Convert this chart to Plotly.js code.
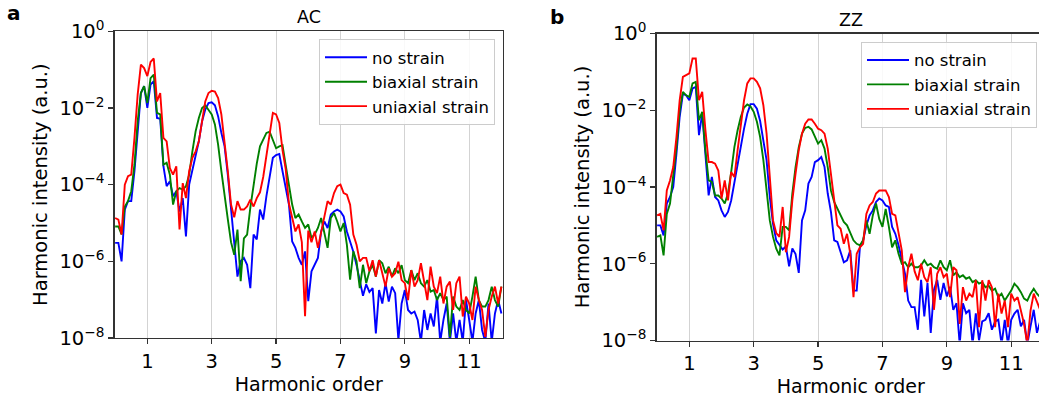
<!DOCTYPE html>
<html>
<head>
<meta charset="utf-8">
<script src="https://cdn.plot.ly/plotly-3.0.1.min.js"></script>
<style>html,body{margin:0;padding:0;overflow:hidden;background:#fff}</style>
</head>
<body>
<div id="chart" style="width:1050px;height:398px"></div>
<script>
// Harmonic order sampling grid: starts at 0, step 0.1 (121 samples, 0 … 12)
const harmonicStart = 0;
const harmonicStep = 0.1;

const seriesNames = ['no strain', 'biaxial strain', 'uniaxial strain'];
const panelTitles = ['AC', 'ZZ'];
const panelLetters = ['a', 'b'];

// log10 of harmonic intensity (a.u.), panel a (AC)
const acNoStrain = [
 -5.52,-5.52,-6.00,-4.65,-4.43,-4.43,-3.65,-2.52,-1.61,-1.43,
 -2.00,-1.39,-1.30,-2.26,-2.28,-3.52,-4.04,-3.91,-4.30,-4.17,
 -4.70,-4.35,-5.35,-4.00,-3.65,-3.26,-2.87,-2.35,-2.04,-1.87,
 -1.85,-1.93,-2.22,-2.65,-3.00,-3.74,-4.61,-5.57,-6.40,-6.00,
 -5.91,-6.09,-6.70,-5.30,-5.43,-4.65,-4.91,-4.30,-3.83,-3.30,
 -3.23,-3.20,-3.65,-4.09,-4.52,-5.48,-5.65,-5.91,-6.09,-5.74,
 -7.04,-6.26,-6.09,-5.91,-5.22,-4.96,-5.13,-4.78,-4.70,-4.65,
 -4.70,-4.83,-5.22,-5.50,-5.75,-6.10,-6.50,-6.90,-6.60,-6.80,
 -6.70,-7.88,-6.75,-7.10,-6.57,-7.05,-6.66,-6.83,-8.05,-7.10,
 -6.75,-7.27,-7.36,-7.31,-7.53,-8.10,-7.27,-7.79,-7.36,-7.70,
 -6.92,-8.10,-7.53,-7.10,-8.10,-7.36,-8.10,-7.53,-8.10,-7.01,
 -7.53,-8.10,-7.36,-7.01,-7.79,-8.10,-7.10,-8.10,-7.36,-7.01,
 -7.36
];
const acBiaxial = [
 -5.09,-5.09,-5.30,-4.57,-4.43,-4.17,-3.48,-2.35,-1.61,-1.43,
 -1.87,-1.22,-1.13,-2.13,-2.17,-3.48,-3.43,-3.74,-4.52,-4.17,
 -4.09,-4.13,-4.04,-3.74,-3.13,-2.61,-2.26,-2.00,-1.93,-2.04,
 -2.17,-2.43,-2.96,-3.65,-4.35,-4.90,-5.50,-5.83,-5.17,-6.52,
 -5.40,-5.30,-4.60,-4.00,-3.45,-3.00,-2.80,-2.65,-2.62,-2.85,
 -3.05,-3.00,-2.97,-3.50,-4.05,-4.52,-4.87,-4.78,-4.96,-5.13,
 -5.04,-5.39,-5.30,-5.13,-4.87,-5.22,-5.65,-4.87,-4.74,-4.96,
 -5.22,-5.00,-5.57,-6.48,-5.74,-6.00,-6.70,-6.09,-6.57,-6.26,
 -6.09,-6.40,-5.97,-6.05,-6.31,-6.14,-6.40,-6.18,-6.31,-6.10,
 -6.49,-6.57,-6.23,-6.49,-6.31,-6.57,-6.66,-6.49,-6.79,-6.75,
 -7.01,-6.83,-7.01,-6.92,-7.97,-6.92,-7.18,-7.27,-7.01,-7.27,
 -7.36,-6.92,-6.40,-7.01,-7.18,-7.18,-7.01,-6.66,-7.01,-7.18,
 -6.66
];
const acUniaxial = [
 -4.87,-4.91,-5.30,-4.00,-3.78,-3.74,-2.78,-1.65,-0.87,-0.96,
 -1.17,-0.80,-0.71,-1.83,-1.61,-2.78,-2.87,-3.57,-3.74,-3.52,
 -5.17,-3.96,-4.35,-3.65,-3.30,-3.13,-2.87,-2.39,-1.83,-1.61,
 -1.55,-1.57,-1.74,-2.17,-2.87,-3.65,-4.52,-4.85,-4.43,-4.65,
 -4.65,-4.57,-4.39,-4.57,-4.35,-4.20,-3.80,-3.26,-2.61,-2.13,
 -2.17,-2.39,-3.10,-3.60,-4.50,-4.83,-5.22,-5.04,-5.50,-7.43,
 -5.20,-5.50,-5.22,-5.65,-5.22,-4.87,-4.43,-4.52,-4.22,-4.04,
 -4.00,-4.22,-4.26,-4.52,-5.30,-5.57,-6.00,-5.91,-5.91,-6.26,
 -5.97,-6.40,-5.97,-6.31,-6.66,-6.18,-6.40,-6.31,-6.01,-6.49,
 -6.57,-7.01,-6.23,-6.66,-6.49,-6.05,-6.57,-7.01,-6.14,-6.66,
 -6.83,-6.40,-7.10,-6.66,-6.53,-7.27,-6.57,-6.40,-7.44,-6.92,
 -7.10,-7.53,-6.66,-7.01,-7.27,-7.97,-7.27,-6.92,-6.66,-7.10,
 -6.66
];

// log10 of harmonic intensity (a.u.), panel b (ZZ)
const zzNoStrain = [
 -5.00,-5.00,-5.26,-4.43,-4.26,-4.00,-3.13,-2.17,-1.57,-1.61,
 -1.74,-1.43,-1.39,-2.65,-2.09,-3.22,-4.22,-3.74,-4.26,-4.35,
 -4.61,-4.78,-4.65,-4.35,-3.87,-3.35,-2.91,-2.48,-2.09,-1.84,
 -1.84,-1.96,-2.28,-2.78,-3.30,-4.26,-4.96,-5.39,-5.50,-5.63,
 -5.55,-6.07,-5.60,-5.75,-6.24,-4.87,-4.61,-3.91,-3.74,-3.35,
 -3.30,-3.22,-3.48,-4.17,-4.65,-5.39,-5.43,-5.70,-5.96,-5.91,
 -5.65,-6.70,-6.70,-5.57,-5.39,-5.00,-4.74,-4.61,-4.39,-4.30,
 -4.35,-4.48,-4.52,-5.04,-5.22,-5.52,-5.91,-6.26,-6.96,-7.13,
 -7.13,-7.72,-6.42,-7.37,-6.50,-7.80,-6.68,-6.42,-6.94,-6.50,
 -6.85,-6.60,-7.20,-7.03,-8.10,-7.03,-7.29,-7.20,-8.10,-7.29,
 -8.00,-7.50,-7.46,-7.29,-7.72,-7.50,-7.46,-8.10,-7.46,-8.10,
 -7.46,-7.30,-7.20,-7.63,-7.46,-8.10,-7.63,-7.20,-7.80,-7.50,
 -7.40
];
const zzBiaxial = [
 -5.30,-5.26,-5.78,-4.70,-4.43,-3.74,-2.96,-2.00,-1.52,-1.61,
 -1.65,-1.30,-1.26,-2.26,-2.04,-3.04,-3.83,-3.87,-4.22,-4.22,
 -4.30,-4.43,-4.17,-3.61,-2.96,-2.52,-2.17,-1.93,-1.85,-1.90,
 -2.04,-2.30,-2.70,-3.30,-4.09,-4.87,-5.30,-5.61,-5.78,-5.04,
 -5.04,-5.13,-4.17,-3.48,-2.96,-2.61,-2.46,-2.43,-2.50,-2.70,
 -2.87,-2.78,-3.00,-3.48,-4.09,-4.39,-4.57,-4.74,-4.91,-5.00,
 -5.22,-5.39,-5.48,-5.52,-5.39,-4.87,-5.22,-4.74,-4.43,-4.83,
 -5.04,-4.57,-5.04,-5.57,-5.39,-5.74,-6.00,-5.96,-6.09,-6.00,
 -6.09,-6.09,-6.04,-5.91,-6.04,-6.00,-6.09,-6.13,-5.91,-6.09,
 -6.17,-5.91,-6.30,-6.22,-6.35,-6.30,-6.39,-6.35,-6.48,-6.43,
 -6.52,-6.48,-6.61,-6.57,-6.70,-6.65,-6.87,-6.78,-6.96,-6.83,
 -6.70,-6.52,-6.61,-6.74,-6.91,-6.96,-6.78,-6.65,-6.78,-6.87,
 -6.80
];
const zzUniaxial = [
 -4.74,-4.70,-5.13,-4.09,-3.83,-3.48,-2.70,-1.74,-1.13,-1.09,
 -1.04,-0.65,-0.65,-1.74,-1.52,-2.52,-3.35,-3.35,-3.39,-3.57,
 -4.30,-3.83,-4.35,-3.61,-3.74,-3.04,-2.35,-1.74,-1.30,-1.17,
 -1.17,-1.26,-1.43,-1.87,-2.61,-3.74,-4.87,-5.20,-5.30,-4.52,
 -5.70,-5.30,-4.35,-3.65,-3.04,-2.61,-2.35,-2.24,-2.24,-2.35,
 -2.48,-2.52,-2.61,-3.00,-3.65,-4.35,-5.00,-5.09,-5.48,-5.22,
 -5.74,-6.87,-5.74,-5.57,-5.48,-4.70,-4.48,-4.39,-4.17,-4.09,
 -4.09,-4.09,-4.26,-4.70,-4.74,-5.22,-5.65,-6.74,-6.09,-5.74,
 -6.20,-6.43,-6.00,-6.35,-6.48,-6.09,-7.20,-6.26,-6.09,-6.35,
 -6.26,-6.87,-6.09,-6.17,-7.57,-6.61,-6.96,-6.78,-6.87,-6.43,
 -7.65,-6.43,-6.96,-6.43,-6.61,-7.65,-6.78,-7.30,-6.96,-7.65,
 -6.78,-6.96,-6.87,-7.22,-7.57,-8.10,-7.22,-6.78,-7.00,-7.20,
 -7.00
];

const xTickVals = [1, 3, 5, 7, 9, 11];
const yTickVals = [1e-8, 1e-6, 1e-4, 1e-2, 1];
const yTickText = ['10<sup>\u22128</sup>', '10<sup>\u22126</sup>', '10<sup>\u22124</sup>', '10<sup>\u22122</sup>', '10<sup>0</sup>'];

// ---- styling ----
const W = 1050, H = 398;
const FONT = 'DejaVu Sans, Verdana, sans-serif';
const colors = ['#0000ff', '#008000', '#ff0000'];

function mk(vals, i, xa, ya, leg) {
  return {
    type: 'scatter', mode: 'lines',
    x0: harmonicStart, dx: harmonicStep,
    y: vals.map(v => Math.pow(10, v)),
    name: seriesNames[i],
    line: {color: colors[i], width: 1.9},
    xaxis: xa, yaxis: ya, legend: leg,
    hoverinfo: 'skip'
  };
}

const traces = [
  mk(acNoStrain, 0, 'x', 'y', 'legend'),
  mk(acBiaxial, 1, 'x', 'y', 'legend'),
  mk(acUniaxial, 2, 'x', 'y', 'legend'),
  mk(zzNoStrain, 0, 'x2', 'y2', 'legend2'),
  mk(zzBiaxial, 1, 'x2', 'y2', 'legend2'),
  mk(zzUniaxial, 2, 'x2', 'y2', 'legend2')
];

const frame = {
  showline: true, linecolor: '#333', linewidth: 1.2, mirror: true,
  ticks: 'outside', ticklen: 5, tickwidth: 1.2, tickcolor: '#333',
  zeroline: false, tickfont: {size: 19.5, color: '#000'}
};
function xa(dom, anchor) {
  return Object.assign({}, frame, {
    domain: dom, anchor: anchor, range: [-0.02, 12.05],
    tickmode: 'array', tickvals: xTickVals,
    showgrid: true, gridcolor: '#d3d3d3', gridwidth: 1,
    title: {text: 'Harmonic order', font: {size: 19, color: '#000'}, standoff: 2}
  });
}
function ya(dom, anchor) {
  return Object.assign({}, frame, {
    domain: dom, anchor: anchor, type: 'log', range: [-8, 0],
    tickmode: 'array', tickvals: yTickVals, ticktext: yTickText,
    showgrid: false,
    title: {text: 'Harmonic intensity (a.u.)', font: {size: 19.5, color: '#000'}, standoff: 6}
  });
}
const legendStyle = {
  xanchor: 'right', yanchor: 'top',
  bgcolor: 'rgba(255,255,255,0.85)', bordercolor: '#cccccc', borderwidth: 1,
  font: {size: 16.5, color: '#000'}, tracegroupgap: 0, itemwidth: 42
};

const layout = {
  width: W, height: H,
  margin: {l: 0, r: 0, t: 0, b: 0},
  paper_bgcolor: '#fff', plot_bgcolor: '#fff',
  font: {family: FONT, color: '#000'},
  showlegend: true,
  xaxis: xa([114.5 / W, 503 / W], 'y'),
  yaxis: ya([(H - 338) / H, (H - 31.3) / H], 'x'),
  xaxis2: xa([656.5 / W, 1045 / W], 'y2'),
  yaxis2: ya([(H - 340.5) / H, (H - 33.5) / H], 'x2'),
  legend: Object.assign({}, legendStyle, {x: 495 / W, y: 1 - 39 / H}),
  legend2: Object.assign({}, legendStyle, {x: 1037 / W, y: 1 - 41.7 / H}),
  annotations: [
    {text: '<b>' + panelLetters[0] + '</b>', xref: 'paper', yref: 'paper', x: 14 / W, y: 1 - 13 / H,
     xanchor: 'center', yanchor: 'middle', showarrow: false, font: {size: 20}},
    {text: '<b>' + panelLetters[1] + '</b>', xref: 'paper', yref: 'paper', x: 557 / W, y: 1 - 17 / H,
     xanchor: 'center', yanchor: 'middle', showarrow: false, font: {size: 20}},
    {text: panelTitles[0], xref: 'paper', yref: 'paper', x: 308.7 / W, y: 1 - 17 / H,
     xanchor: 'center', yanchor: 'middle', showarrow: false, font: {size: 17.5}},
    {text: panelTitles[1], xref: 'paper', yref: 'paper', x: 850.7 / W, y: 1 - 20 / H,
     xanchor: 'center', yanchor: 'middle', showarrow: false, font: {size: 17.5}}
  ]
};

Plotly.newPlot('chart', traces, layout, {staticPlot: true, displayModeBar: false});
</script>
</body>
</html>
